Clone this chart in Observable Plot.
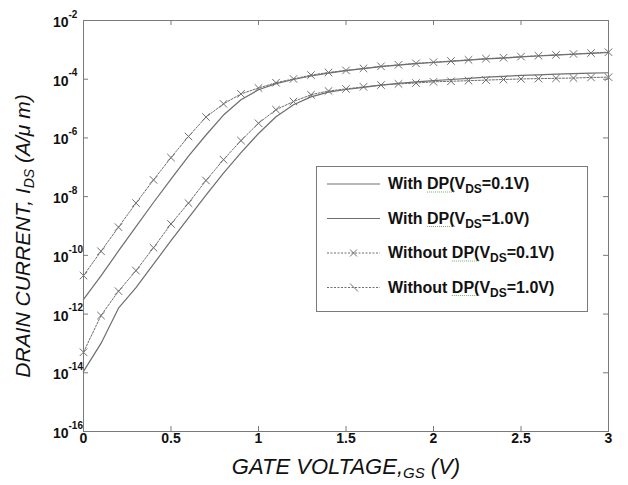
<!DOCTYPE html>
<html><head><meta charset="utf-8">
<script src="https://cdn.jsdelivr.net/npm/d3@7"></script>
<script src="https://cdn.jsdelivr.net/npm/@observablehq/plot@0.6"></script>
<style>
body{margin:0;background:#fff}
#chart{position:relative;width:628px;height:485px}
</style>
</head><body><div id="chart"></div>
<script>
// Gate voltage (V)
const gateVoltage = [0,0.1,0.2,0.3,0.4,0.5,0.6,0.7,0.8,0.9,1.0,1.1,1.2,1.3,1.4,1.5,1.6,1.7,1.8,1.9,2.0,2.1,2.2,2.3,2.4,2.5,2.6,2.7,2.8,2.9,3.0];
// log10 of drain current (A/um)
const withDP_Vds01 = [-13.95,-13.0,-11.8,-11.1,-10.3,-9.5,-8.72,-7.95,-7.2,-6.5,-5.85,-5.28,-4.87,-4.6,-4.44,-4.35,-4.28,-4.2,-4.14,-4.09,-4.05,-4.01,-3.97,-3.93,-3.9,-3.87,-3.85,-3.83,-3.81,-3.79,-3.78];
const withDP_Vds10 = [-11.5,-10.7,-9.85,-9.02,-8.2,-7.4,-6.62,-5.9,-5.22,-4.7,-4.36,-4.15,-4.01,-3.89,-3.79,-3.71,-3.64,-3.57,-3.52,-3.47,-3.43,-3.39,-3.35,-3.31,-3.28,-3.24,-3.21,-3.18,-3.15,-3.12,-3.09];
const withoutDP_Vds01 = [-13.3,-12.05,-11.22,-10.52,-9.74,-8.93,-8.22,-7.45,-6.74,-6.09,-5.5,-5.04,-4.76,-4.53,-4.4,-4.33,-4.26,-4.2,-4.16,-4.13,-4.09,-4.07,-4.05,-4.03,-4.01,-3.99,-3.98,-3.97,-3.96,-3.94,-3.93];
const withoutDP_Vds10 = [-10.69,-9.86,-9.04,-8.22,-7.43,-6.67,-5.95,-5.29,-4.84,-4.5,-4.3,-4.12,-3.99,-3.86,-3.77,-3.7,-3.63,-3.56,-3.51,-3.46,-3.42,-3.38,-3.34,-3.3,-3.27,-3.23,-3.2,-3.17,-3.14,-3.11,-3.08];

const yTickExponents = [-2,-4,-6,-8,-10,-12,-14,-16];
const xTicks = [0,0.5,1,1.5,2,2.5,3];
const xTickLabels = ["0","0.5","1","1.5","2","2.5","3"];

// legend labels: [prefix, underlined word, before subscript, subscript, suffix]
const legendNames = [
  ["With ","DP","(V","DS","=0.1V)"],
  ["With ","DP","(V","DS","=1.0V)"],
  ["Without ","DP","(V","DS","=0.1V)"],
  ["Without ","DP","(V","DS","=1.0V)"]
];

function rowsOf(name, logs){ return gateVoltage.map((v,i)=>({V:v, I:Math.pow(10, logs[i]), series:name})); }
const sWithLo = rowsOf("withDP_Vds01", withDP_Vds01);
const sWithHi = rowsOf("withDP_Vds10", withDP_Vds10);
const sWoLo = rowsOf("withoutDP_Vds01", withoutDP_Vds01);
const sWoHi = rowsOf("withoutDP_Vds10", withoutDP_Vds10);

const W=628, H=485, mL=83, mR=20, mT=20, mB=54;
const fw=W-mL-mR, fh=H-mT-mB;
const axisGray="#7a7a7a", curveGray="#6e6e6e";
const FONT="'Liberation Sans', Arial, Helvetica, sans-serif";
const yTickValues = yTickExponents.map(e=>Math.pow(10,e));

const plot = Plot.plot({
  width:W, height:H, marginLeft:mL, marginRight:mR, marginTop:mT, marginBottom:mB,
  x:{domain:[0,3], axis:null},
  y:{type:"log", domain:[1e-16,1e-2], axis:null},
  style:{fontFamily:FONT, background:"#fff", color:"#111", overflow:"visible"},
  marks:[
    Plot.gridX(xTicks, {stroke:axisGray, strokeOpacity:1, insetTop:fh-5}),
    Plot.gridX(xTicks, {stroke:axisGray, strokeOpacity:1, insetBottom:fh-5}),
    Plot.gridY(yTickValues, {stroke:axisGray, strokeOpacity:1, insetRight:fw-5}),
    Plot.gridY(yTickValues, {stroke:axisGray, strokeOpacity:1, insetLeft:fw-5}),
    Plot.line(sWithLo, {x:"V", y:"I", stroke:curveGray, strokeWidth:1.2}),
    Plot.line(sWithHi, {x:"V", y:"I", stroke:curveGray, strokeWidth:1.2}),
    Plot.line(sWoLo, {x:"V", y:"I", stroke:curveGray, strokeWidth:1, strokeDasharray:"2,1.5"}),
    Plot.line(sWoHi, {x:"V", y:"I", stroke:curveGray, strokeWidth:1, strokeDasharray:"2,1.5"}),
    Plot.dot(sWoLo, {x:"V", y:"I", symbol:"times", r:3.5, stroke:curveGray, strokeWidth:1}),
    Plot.dot(sWoHi, {x:"V", y:"I", symbol:"times", r:3.5, stroke:curveGray, strokeWidth:1}),
    Plot.frame({stroke:axisGray}),
    Plot.text(yTickExponents, {y:e=>Math.pow(10,e), text:()=> "10", frameAnchor:"left", textAnchor:"end", dx:-15, dy:2, fontWeight:"bold", fontSize:14, fill:"#111"}),
    Plot.text(yTickExponents, {y:e=>Math.pow(10,e), text:e=>String(e), frameAnchor:"left", textAnchor:"start", dx:-15, dy:-6, fontWeight:"bold", fontSize:10, fill:"#111"}),
    Plot.text(xTicks, {x:d=>d, text:(d,i)=>xTickLabels[i], frameAnchor:"bottom", dy:11, fontWeight:"bold", fontSize:14, fill:"#111"})
  ]
});
document.getElementById("chart").appendChild(plot);

const svg = d3.select(plot);
// Y axis title
const yt = svg.append("text").attr("transform","translate(30,236) rotate(-90)")
  .attr("text-anchor","middle").attr("fill","#111")
  .style("font-family",FONT).style("font-style","italic").style("font-size","21px");
yt.append("tspan").text("DRAIN CURRENT, I");
yt.append("tspan").attr("dy",4).style("font-size","14px").text("DS");
yt.append("tspan").attr("dy",-4).text(" (A/\u03bc m)");
// X axis title
const xt = svg.append("text").attr("x",346).attr("y",474)
  .attr("text-anchor","middle").attr("fill","#111")
  .style("font-family",FONT).style("font-style","italic").style("font-size","22px");
xt.append("tspan").text("GATE VOLTAGE,");
xt.append("tspan").attr("dy",4).style("font-size","15px").text("GS");
xt.append("tspan").attr("dy",-4).text(" (V)");

// Legend
const lg = svg.append("g");
lg.append("rect").attr("x",316.5).attr("y",166.5).attr("width",271).attr("height",145)
  .attr("fill","#fff").attr("stroke",axisGray);
legendNames.forEach((parts,i)=>{
  const cy = 184 + i*34.5;
  const ln = lg.append("line").attr("x1",327).attr("x2",380).attr("y1",cy).attr("y2",cy)
    .attr("stroke",curveGray).attr("stroke-width", i<2?1.2:1);
  if(i>=2) ln.attr("stroke-dasharray","2,1.5");
  if(i===2){
    lg.append("path").attr("d",`M350,${cy-3.5}L357,${cy+3.5}M350,${cy+3.5}L357,${cy-3.5}`).attr("stroke",curveGray);
  }
  if(i===3){
    lg.append("path").attr("d",`M350,${cy-4}L358,${cy+4}`).attr("stroke",curveGray);
  }
  const t = lg.append("text").attr("x",388).attr("y",cy+5).attr("fill","#111")
    .attr("text-anchor","start")
    .style("font-family",FONT).style("font-weight","bold").style("font-size","16px");
  t.append("tspan").text(parts[0]);
  t.append("tspan").text(parts[1]);
  t.append("tspan").text(parts[2]);
  t.append("tspan").attr("dy",4).style("font-size","12px").text(parts[3]);
  t.append("tspan").attr("dy",-4).text(parts[4]);
  // spell-check style underline under "DP"
  try {
    const n = t.node();
    const s = parts[0].length;
    const x1 = n.getStartPositionOfChar(s).x;
    const x2 = n.getEndPositionOfChar(s+2).x;
    lg.append("line").attr("x1",x1).attr("x2",x2).attr("y1",cy+8).attr("y2",cy+8)
      .attr("stroke","#6cb36c").attr("stroke-width",1).attr("stroke-dasharray","1,1");
  } catch(e) {}
});
</script>
</body></html>
